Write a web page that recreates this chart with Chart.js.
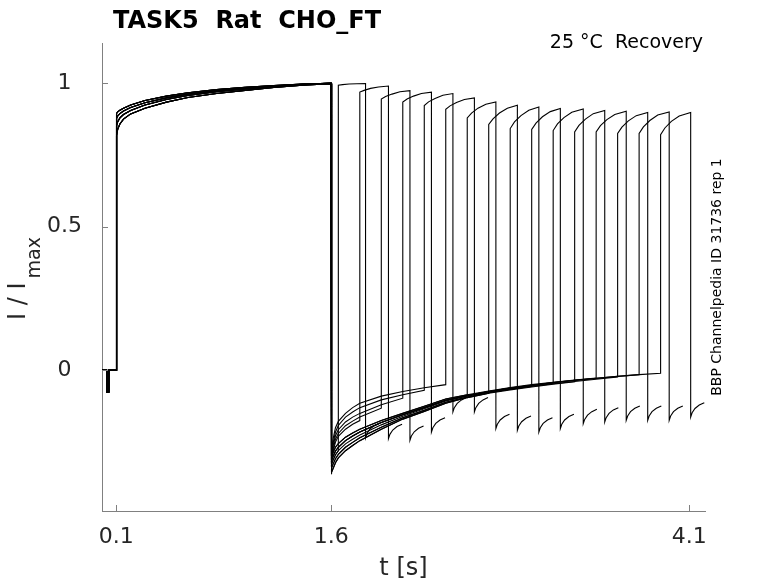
<!DOCTYPE html>
<html>
<head>
<meta charset="utf-8">
<script src="https://cdn.jsdelivr.net/npm/chart.js@4.4.1/dist/chart.umd.min.js"></script>
<style>
  html, body { margin: 0; padding: 0; background: #fff; }
  #chart { display: block; }
</style>
</head>
<body>
<canvas id="chart" width="778" height="583"></canvas>
<script>
// ---- data (t in s, I / Imax) ----

// holding + capacitive blip before the conditioning step
const preT = [0, 0.032, 0.033, 0.046, 0.047, 0.1];
const preI = [0, 0, -0.075, -0.075, 0, 0];

// conditioning pulse 0.1 .. 1.6 s, four envelopes across the band
const condT = [0.1, 0.103, 0.11, 0.125, 0.15, 0.2, 0.3, 0.45, 0.6, 0.8, 1.0, 1.2, 1.4, 1.6];
const condA = [0.89, 0.895, 0.90, 0.906, 0.913, 0.924, 0.94, 0.955, 0.967, 0.978, 0.986, 0.992, 0.997, 1.0];
const condB = [0.87, 0.878, 0.886, 0.894, 0.903, 0.915, 0.932, 0.949, 0.962, 0.974, 0.983, 0.990, 0.996, 1.0];
const condC = [0.84, 0.852, 0.866, 0.879, 0.891, 0.905, 0.924, 0.943, 0.957, 0.970, 0.980, 0.988, 0.995, 0.999];
const condD = [0.80, 0.818, 0.840, 0.858, 0.875, 0.893, 0.913, 0.934, 0.950, 0.964, 0.975, 0.985, 0.993, 0.998];

// recovery tails after 1.6 s
const tailT = [1.6, 1.605, 1.615, 1.63, 1.65, 1.7, 1.75, 1.8, 1.95, 2.1, 2.25, 2.4, 2.55, 2.7, 2.85, 3.0, 3.15, 3.3, 3.45, 3.6, 3.75, 3.9];
const slow1 = [-0.31, -0.30, -0.285, -0.268, -0.255, -0.233, -0.218, -0.205, -0.175, -0.150, -0.125, -0.100, -0.085, -0.072, -0.060, -0.050, -0.042, -0.034, -0.027, -0.020, -0.014, -0.009];
const slow2 = [-0.32, -0.313, -0.298, -0.281, -0.268, -0.245, -0.229, -0.215, -0.182, -0.155, -0.130, -0.104, -0.088, -0.074, -0.062, -0.052, -0.043, -0.035, -0.028, -0.021, -0.015, -0.010];
const slow3 = [-0.335, -0.326, -0.311, -0.294, -0.280, -0.256, -0.240, -0.225, -0.190, -0.160, -0.134, -0.107, -0.090, -0.076, -0.064, -0.054, -0.045, -0.037, -0.029, -0.022, -0.016, -0.011];
const slow4 = [-0.35, -0.34, -0.325, -0.308, -0.293, -0.268, -0.251, -0.235, -0.198, -0.165, -0.139, -0.111, -0.093, -0.078, -0.066, -0.056, -0.047, -0.039, -0.031, -0.023, -0.017, -0.012];
const slow5 = [-0.36, -0.355, -0.34, -0.322, -0.305, -0.280, -0.262, -0.245, -0.205, -0.170, -0.143, -0.115, -0.095, -0.080, -0.068, -0.058, -0.048, -0.040, -0.032, -0.024, -0.018, -0.012];
const fast1 = [-0.30, -0.275, -0.235, -0.200, -0.178, -0.150, -0.130, -0.115, -0.090, -0.074, -0.061, -0.050];
const fast2 = [-0.31, -0.285, -0.250, -0.215, -0.192, -0.163, -0.145, -0.130, -0.103, -0.085, -0.070];
const fast3 = [-0.32, -0.295, -0.260, -0.228, -0.207, -0.180, -0.163, -0.150, -0.120, -0.097];
const fast4 = [-0.33, -0.305, -0.272, -0.240, -0.220, -0.193, -0.177, -0.163, -0.132];
const fast5 = [-0.33, -0.310, -0.280, -0.250, -0.230, -0.205, -0.188, -0.175];

// test pulses
const pulseOn  = [1.65, 1.80, 1.95, 2.10, 2.25, 2.40, 2.55, 2.70, 2.85, 3.00, 3.15, 3.30, 3.45, 3.60, 3.75, 3.90];
const pulseOff = [1.84, 2.00, 2.15, 2.30, 2.45, 2.60, 2.75, 2.90, 3.05, 3.20, 3.36, 3.51, 3.66, 3.81, 3.96, 4.11];
const pulseDt  = [0, 0.03, 0.075, 0.13];
const pulseI = [
  [0.993, 0.995, 0.997, 0.998, 0.999],
  [0.969, 0.975, 0.982, 0.987, 0.990],
  [0.945, 0.954, 0.962, 0.970, 0.974],
  [0.934, 0.945, 0.955, 0.964, 0.969],
  [0.922, 0.935, 0.947, 0.958, 0.964],
  [0.909, 0.921, 0.933, 0.943, 0.949],
  [0.879, 0.896, 0.913, 0.927, 0.935],
  [0.856, 0.876, 0.896, 0.913, 0.923],
  [0.842, 0.865, 0.887, 0.906, 0.917],
  [0.839, 0.861, 0.883, 0.901, 0.912],
  [0.835, 0.858, 0.880, 0.899, 0.910],
  [0.830, 0.853, 0.875, 0.894, 0.905],
  [0.830, 0.852, 0.873, 0.891, 0.902],
  [0.825, 0.847, 0.869, 0.887, 0.898],
  [0.825, 0.848, 0.870, 0.889, 0.900],
  [0.821, 0.844, 0.867, 0.886, 0.898]
];

// short tail hook after each test pulse
const hookDt = [0, 0.01, 0.03, 0.06, 0.095];
const hookI = [
  [-0.235, -0.220, -0.205, -0.193, -0.185],
  [-0.238, -0.223, -0.208, -0.196, -0.188],
  [-0.244, -0.229, -0.214, -0.202, -0.194],
  [-0.215, -0.200, -0.185, -0.173, -0.165],
  [-0.145, -0.130, -0.115, -0.103, -0.095],
  [-0.145, -0.130, -0.115, -0.103, -0.095],
  [-0.203, -0.188, -0.173, -0.161, -0.153],
  [-0.209, -0.194, -0.179, -0.167, -0.159],
  [-0.215, -0.200, -0.185, -0.173, -0.165],
  [-0.203, -0.188, -0.173, -0.161, -0.153],
  [-0.186, -0.171, -0.156, -0.144, -0.136],
  [-0.180, -0.165, -0.150, -0.138, -0.130],
  [-0.174, -0.159, -0.144, -0.132, -0.124],
  [-0.174, -0.159, -0.144, -0.132, -0.124],
  [-0.174, -0.159, -0.144, -0.132, -0.124],
  [-0.163, -0.148, -0.133, -0.121, -0.113]
];

// which envelope each sweep follows
const condOf = ['B', 'A', 'C', 'D', 'B', 'A', 'C', 'D', 'A', 'B', 'C', 'D', 'A', 'B', 'C', 'D'];
const tailOf = ['slow3', 'fast5', 'fast4', 'fast3', 'fast2', 'fast1', 'slow1', 'slow5', 'slow2', 'slow4', 'slow3', 'slow5', 'slow1', 'slow4', 'slow2', 'slow2'];

const xTicks = [0.1, 1.6, 4.1];
const xTickLabels = ['0.1', '1.6', '4.1'];
const yTicks = [0, 0.5, 1];
const yTickLabels = ['0', '0.5', '1'];

// ---- build sweeps ----
const condSets = { A: condA, B: condB, C: condC, D: condD };
const tailSets = { slow1, slow2, slow3, slow4, slow5, fast1, fast2, fast3, fast4, fast5 };

function buildSweep(k) {
  const pts = [];
  preT.forEach((t, i) => pts.push({ x: t, y: preI[i] }));
  const c = condSets[condOf[k]];
  condT.forEach((t, i) => pts.push({ x: t, y: c[i] }));
  const tl = tailSets[tailOf[k]];
  for (let i = 0; i < tl.length && tailT[i] <= pulseOn[k] + 1e-9; i++) {
    pts.push({ x: tailT[i], y: tl[i] });
  }
  pulseDt.forEach((d, i) => pts.push({ x: pulseOn[k] + d, y: pulseI[k][i] }));
  pts.push({ x: pulseOff[k], y: pulseI[k][4] });
  hookDt.forEach((d, i) => pts.push({ x: pulseOff[k] + d, y: hookI[k][i] }));
  return pts;
}

const datasets = pulseOn.map((_, k) => ({
  data: buildSweep(k),
  borderColor: '#000',
  borderWidth: 1.1,
  pointRadius: 0,
  fill: false,
  tension: 0
}));

const FONT = "'DejaVu Sans', 'Liberation Sans', sans-serif";
const AXIS_GREY = '#808080';

// ticks pointing inward, titles and side texts
const decor = {
  id: 'decor',
  afterDraw(chart) {
    const { ctx, chartArea } = chart;
    const xs = chart.scales.x, ys = chart.scales.y;
    ctx.save();
    ctx.strokeStyle = AXIS_GREY;
    ctx.lineWidth = 1;
    ctx.beginPath();
    xTicks.forEach(v => {
      const px = Math.round(xs.getPixelForValue(v)) + 0.5;
      ctx.moveTo(px, chartArea.bottom);
      ctx.lineTo(px, chartArea.bottom - 6);
    });
    yTicks.forEach(v => {
      const py = Math.round(ys.getPixelForValue(v)) + 0.5;
      ctx.moveTo(chartArea.left, py);
      ctx.lineTo(chartArea.left + 6, py);
    });
    ctx.stroke();

    ctx.fillStyle = '#000';
    ctx.textBaseline = 'alphabetic';
    ctx.textAlign = 'left';
    ctx.font = 'bold 24px ' + FONT;
    ctx.fillText('TASK5  Rat  CHO_FT', 113, 28);

    ctx.textAlign = 'right';
    ctx.font = '19px ' + FONT;
    ctx.fillText('25 °C  Recovery', 703, 48);

    // x title
    ctx.fillStyle = '#262626';
    ctx.textAlign = 'center';
    ctx.font = '24px ' + FONT;
    ctx.fillText('t [s]', (chartArea.left + chartArea.right) / 2, 575);

    // y title with subscript
    ctx.save();
    ctx.translate(25, 320);
    ctx.rotate(-Math.PI / 2);
    ctx.textAlign = 'left';
    ctx.font = '24px ' + FONT;
    const w = ctx.measureText('I / I').width;
    ctx.fillText('I / I', 0, 0);
    ctx.font = '19px ' + FONT;
    ctx.fillText('max', w + 4, 15);
    ctx.restore();

    // right side label
    ctx.save();
    ctx.fillStyle = '#000';
    ctx.translate(717, 277);
    ctx.rotate(-Math.PI / 2);
    ctx.textAlign = 'center';
    ctx.textBaseline = 'middle';
    ctx.font = '14px ' + FONT;
    ctx.fillText('BBP Channelpedia ID 31736 rep 1', 0, 0);
    ctx.restore();

    ctx.restore();
  }
};

new Chart(document.getElementById('chart').getContext('2d'), {
  type: 'line',
  data: { datasets },
  options: {
    responsive: false,
    animation: false,
    devicePixelRatio: 1,
    layout: { padding: { left: 0, right: 73, top: 43, bottom: 0 } },
    plugins: { legend: { display: false }, tooltip: { enabled: false } },
    scales: {
      x: {
        type: 'linear',
        min: 0,
        max: 4.21,
        grid: { display: false, drawTicks: false },
        border: { display: true, color: AXIS_GREY, width: 1 },
        afterBuildTicks: s => { s.ticks = xTicks.map(v => ({ value: v })); },
        afterFit: s => { s.height = 72; },
        ticks: {
          autoSkip: false,
          maxRotation: 0,
          padding: 13,
          color: '#262626',
          font: { family: FONT, size: 22 },
          callback: (v, i) => xTickLabels[i]
        }
      },
      y: {
        type: 'linear',
        min: -0.49,
        max: 1.14,
        grid: { display: false, drawTicks: false },
        border: { display: true, color: AXIS_GREY, width: 1 },
        afterBuildTicks: s => { s.ticks = yTicks.map(v => ({ value: v })); },
        afterFit: s => { s.width = 102; },
        ticks: {
          autoSkip: false,
          padding: 20,
          crossAlign: 'center',
          color: '#262626',
          font: { family: FONT, size: 22 },
          callback: (v, i) => yTickLabels[i]
        }
      }
    }
  },
  plugins: [decor]
});
</script>
</body>
</html>
